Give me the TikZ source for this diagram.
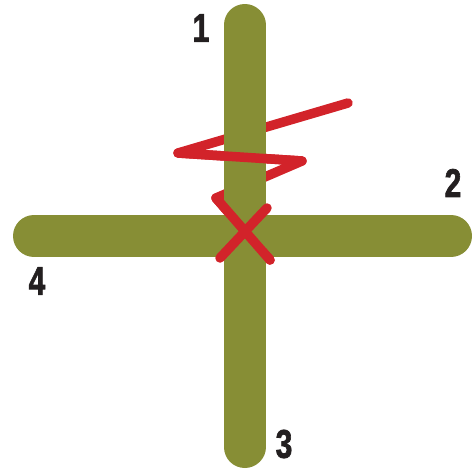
\documentclass[tikz,border=0pt]{standalone}
\usepackage{fontspec}
\setmainfont{Liberation Sans}
\newfontfamily\numfont[FakeBold=2]{Liberation Sans Bold}
\definecolor{olive}{RGB}{135,142,53}
\definecolor{ropered}{RGB}{210,35,42}
\definecolor{ink}{RGB}{35,31,32}
\tikzset{
  pole/.style={line width=42pt,line cap=round,olive},
  rope/.style={line width=9.5pt,line cap=round,line join=round,ropered},
  num/.style={inner sep=0pt,text=ink,font=\fontsize{40}{40}\selectfont\numfont}
}
\begin{document}
\begin{tikzpicture}[x=1pt,y=-1pt]
      \useasboundingbox (0,0) rectangle (472,469);
      % horizontal pole
      \draw[pole] (34,236) -- (451,236);
      % rope parts behind the upright
      \draw[rope] (348,103) -- (178,153) -- (302,161) -- (216,198) -- (270,260);
      % upright pole
      \draw[pole] (244.7,25) -- (244.7,447);
      % rope parts in front
      \draw[rope] (178,153) -- (302,161);
      \draw[rope] (216,198) -- (270,260);
      \draw[rope] (220,258) -- (267,208);
      % labels
      \node[num] (n1) at (201,28) {\scalebox{0.75}[1]{1}};
      \node[num] (n2) at (453,183) {\scalebox{0.75}[1]{2}};
      \node[num] (n3) at (284,444) {\scalebox{0.75}[1]{3}};
      \node[num] (n4) at (37,281) {\scalebox{0.75}[1]{4}};
    \end{tikzpicture}
\end{document}
